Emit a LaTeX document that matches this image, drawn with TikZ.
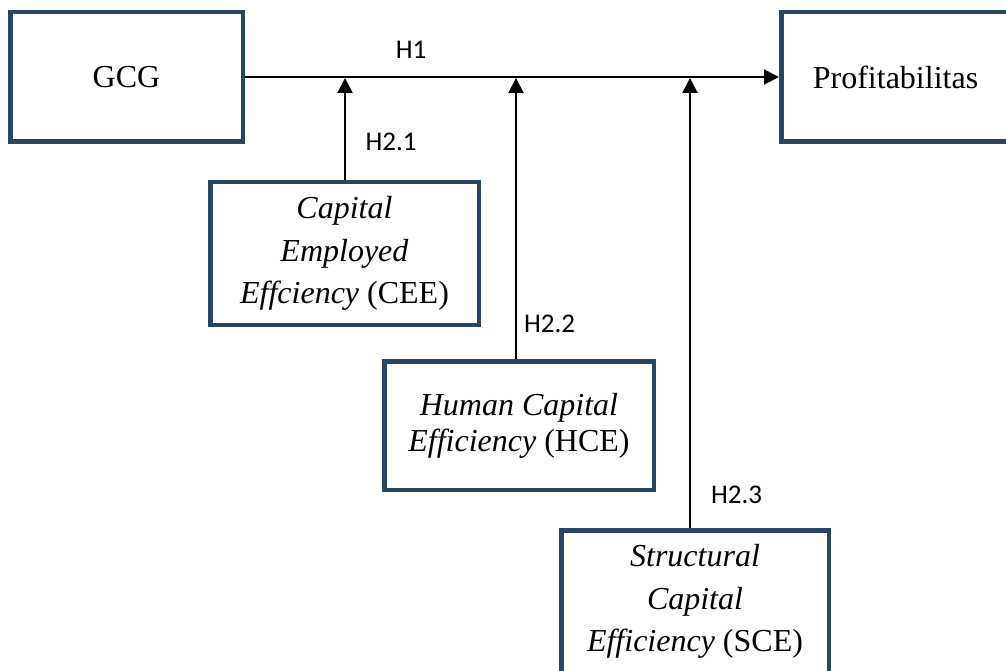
\documentclass[tikz,border=0pt]{standalone}
\usepackage{fontspec}
\setmainfont{Liberation Serif}
\newfontfamily\labelfont{Carlito}
\usetikzlibrary{arrows.meta}
\definecolor{boxblue}{HTML}{2A4466}
\begin{document}
\begin{tikzpicture}[x=1pt,y=-1pt,
  vbox/.style={draw=boxblue, line width=4.5pt, rectangle, inner sep=0pt, align=center,
    font=\fontsize{32}{42.5}\selectfont},
  conn/.style={line width=2pt, -{Triangle[length=15pt,width=15pt]}},
  hlabel/.style={font=\labelfont\fontsize{27}{30}\selectfont, inner sep=0pt}]
\useasboundingbox (0,0) rectangle (1006,671);
\clip (0,0) rectangle (1006,671);
\node[vbox, minimum width=232.5pt, minimum height=129.5pt] (gcg) at (126.5,77) {GCG};
\node[vbox, minimum width=228.5pt, minimum height=129.5pt] (prof) at (895.5,77) {Profitabilitas};
\node[vbox, minimum width=268.5pt, minimum height=142.5pt] (cee) at (344.5,253.5)
  {\textit{Capital}\\ \textit{Employed}\\ \textit{Effciency} (CEE)};
\node[vbox, minimum width=269.5pt, minimum height=128.5pt, font=\fontsize{32}{36}\selectfont] (hce) at (519,425.5)
  {\textit{Human Capital}\\ \textit{Efficiency} (HCE)};
\node[vbox, minimum width=267.5pt, minimum height=142.5pt] (sce) at (695,601.5)
  {\textit{Structural}\\ \textit{Capital}\\ \textit{Efficiency} (SCE)};
\draw[conn] (gcg.east) -- (prof.west);
\coordinate (j1) at (345,78);
\coordinate (j2) at (516,78);
\coordinate (j3) at (690,78);
\draw[conn] (cee.north -| j1) -- (j1);
\draw[conn] (hce.north -| j2) -- (j2);
\draw[conn] (sce.north -| j3) -- (j3);
\node[hlabel] (h1) at (411,50) {H1};
\node[hlabel] (h21) at (391,141.5) {H2.1};
\node[hlabel] (h22) at (549.5,324) {H2.2};
\node[hlabel] (h23) at (736.5,495) {H2.3};
\end{tikzpicture}
\end{document}
